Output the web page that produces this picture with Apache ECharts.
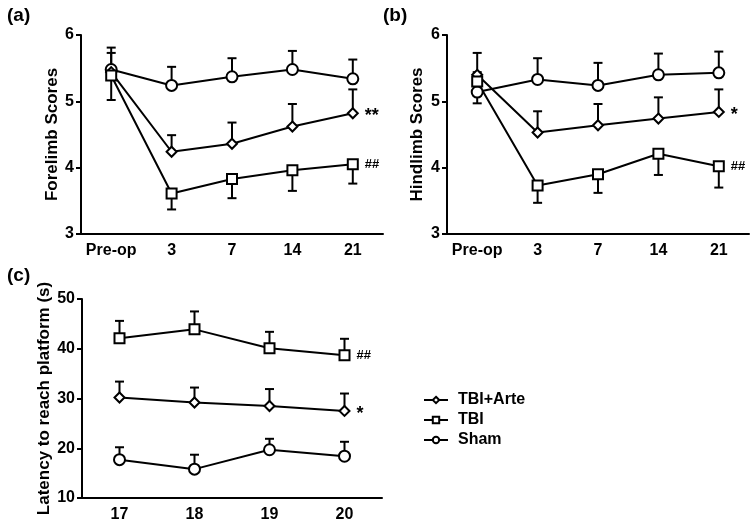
<!DOCTYPE html>
<html>
<head>
<meta charset="utf-8">
<script src="https://cdn.jsdelivr.net/npm/echarts@6/dist/echarts.min.js"></script>
<style>html,body{margin:0;padding:0;background:#fff}#c{width:750px;height:523px}</style>
</head>
<body>
<div id="c"></div>
<script>
// ---- data ----
var catsAB = ['Pre-op', '3', '7', '14', '21'];
var catsC = ['17', '18', '19', '20'];
var yTicksAB = [3, 4, 5, 6];
var yTicksC = [10, 20, 30, 40, 50];

var shamA = [5.48, 5.24, 5.37, 5.48, 5.34];
var shamAErr = [0.33, 0.28, 0.28, 0.28, 0.29];
var arteA = [5.44, 4.24, 4.36, 4.62, 4.82];
var arteAErr = [0.29, 0.25, 0.32, 0.34, 0.36];
var tbiA = [5.39, 3.61, 3.83, 3.96, 4.05];
var tbiAErr = [0.37, 0.24, 0.29, 0.31, 0.29];

var shamB = [5.14, 5.33, 5.24, 5.40, 5.43];
var shamBErr = [0.30, 0.32, 0.34, 0.32, 0.32];
var arteB = [5.40, 4.53, 4.64, 4.74, 4.84];
var arteBErr = [0.33, 0.32, 0.32, 0.32, 0.34];
var tbiB = [5.30, 3.73, 3.90, 4.21, 4.02];
var tbiBErr = [0.33, 0.26, 0.28, 0.32, 0.32];

var tbiC = [42.1, 43.9, 40.1, 38.7];
var tbiCErr = [3.5, 3.6, 3.3, 3.3];
var arteC = [30.2, 29.2, 28.5, 27.5];
var arteCErr = [3.2, 3.0, 3.4, 3.5];
var shamC = [17.7, 15.8, 19.7, 18.4];
var shamCErr = [2.5, 2.9, 2.2, 2.9];

// significance marks placed at the last point
var marksA = {arte: '**', tbi: '##'};
var marksB = {arte: '*', tbi: '##'};
var marksC = {arte: '*', tbi: '##'};

// ---- chart ----
var FONT = '"Liberation Sans", Arial, sans-serif';
var BLACK = '#000';

function xAxis(gi, cats) {
  return {
    type: 'category', gridIndex: gi, data: cats, boundaryGap: true,
    axisLine: {lineStyle: {color: BLACK, width: 2}},
    axisTick: {alignWithLabel: true, interval: 0, length: 5, lineStyle: {color: BLACK, width: 2}},
    axisLabel: {interval: 0, color: BLACK, fontFamily: FONT, fontWeight: 'bold', fontSize: 16, margin: 9},
    splitLine: {show: false}
  };
}
function yAxis(gi, ticks, name, gap) {
  return {
    type: 'value', gridIndex: gi, min: ticks[0], max: ticks[ticks.length - 1],
    interval: ticks[1] - ticks[0],
    name: name, nameLocation: 'middle', nameGap: gap, nameRotate: 90,
    nameTextStyle: {color: BLACK, fontFamily: FONT, fontWeight: 'bold', fontSize: 17},
    axisLine: {show: true, lineStyle: {color: BLACK, width: 2}},
    axisTick: {show: true, length: 5, lineStyle: {color: BLACK, width: 2}},
    axisLabel: {color: BLACK, fontFamily: FONT, fontWeight: 'bold', fontSize: 16, margin: 7},
    splitLine: {show: false}
  };
}

function lineSeries(name, gi, vals, symbol, size, mark, markSize, markDy) {
  var data = vals.map(function (v, i) {
    var d = {value: v};
    if (mark && i === vals.length - 1) {
      d.label = {show: true, position: 'right', distance: 6, formatter: mark, offset: [0, markDy || 0],
        color: BLACK, fontFamily: FONT, fontWeight: 'bold', fontSize: markSize || 15};
    }
    return d;
  });
  return {
    type: 'line', name: name, xAxisIndex: gi, yAxisIndex: gi, data: data,
    symbol: symbol, symbolSize: size, showSymbol: true,
    lineStyle: {color: BLACK, width: 2},
    itemStyle: {color: '#fff', borderColor: BLACK, borderWidth: 2},
    emphasis: {disabled: true}, animation: false, z: 5
  };
}

function errSeries(gi, vals, errs, dir) {
  var data = vals.map(function (v, i) { return [i, v, v + dir * errs[i]]; });
  return {
    type: 'custom', xAxisIndex: gi, yAxisIndex: gi, data: data, z: 3,
    animation: false, silent: true,
    renderItem: function (params, api) {
      var p0 = api.coord([api.value(0), api.value(1)]);
      var p1 = api.coord([api.value(0), api.value(2)]);
      var st = {stroke: BLACK, lineWidth: 2};
      return {type: 'group', children: [
        {type: 'line', shape: {x1: p0[0], y1: p0[1], x2: p1[0], y2: p1[1]}, style: st},
        {type: 'line', shape: {x1: p1[0] - 4.5, y1: p1[1], x2: p1[0] + 4.5, y2: p1[1]}, style: st}
      ]};
    }
  };
}

var option = {
  backgroundColor: '#fff',
  animation: false,
  title: [
    {text: '(a)', left: 2, top: 1, textStyle: {color: BLACK, fontFamily: FONT, fontWeight: 'bold', fontSize: 19}},
    {text: '(b)', left: 378, top: 1, textStyle: {color: BLACK, fontFamily: FONT, fontWeight: 'bold', fontSize: 19}},
    {text: '(c)', left: 2, top: 261, textStyle: {color: BLACK, fontFamily: FONT, fontWeight: 'bold', fontSize: 19}}
  ],
  grid: [
    {left: 81, top: 35, width: 302, height: 199},
    {left: 447, top: 35, width: 302, height: 199},
    {left: 82, top: 299, width: 300, height: 200}
  ],
  xAxis: [xAxis(0, catsAB), xAxis(1, catsAB), xAxis(2, catsC)],
  yAxis: [yAxis(0, yTicksAB, 'Forelimb Scores', 20), yAxis(1, yTicksAB, 'Hindlimb Scores', 21), yAxis(2, yTicksC, 'Latency to reach platform (s)', 23)],
  legend: {
    data: ['TBI+Arte', 'TBI', 'Sham'],
    orient: 'vertical', left: 418, top: 387, itemWidth: 24, itemHeight: 8, itemGap: 4,
    textStyle: {color: BLACK, fontFamily: FONT, fontWeight: 'bold', fontSize: 16, padding: [0, 0, 0, 5]},
    selectedMode: false
  },
  series: [
    errSeries(0, shamA, shamAErr, 1), errSeries(0, arteA, arteAErr, 1), errSeries(0, tbiA, tbiAErr, -1),
    lineSeries('Sham', 0, shamA, 'circle', 11),
    lineSeries('TBI+Arte', 0, arteA, 'diamond', 10, marksA.arte, 18, 3),
    lineSeries('TBI', 0, tbiA, 'rect', 10, marksA.tbi, 13, 0),

    errSeries(1, shamB, shamBErr, 1), errSeries(1, arteB, arteBErr, 1), errSeries(1, tbiB, tbiBErr, -1),
    lineSeries('Sham', 1, shamB, 'circle', 11),
    lineSeries('TBI+Arte', 1, arteB, 'diamond', 10, marksB.arte, 18, 3),
    lineSeries('TBI', 1, tbiB, 'rect', 10, marksB.tbi, 13, 0),

    errSeries(2, tbiC, tbiCErr, 1), errSeries(2, arteC, arteCErr, 1), errSeries(2, shamC, shamCErr, 1),
    lineSeries('TBI+Arte', 2, arteC, 'diamond', 10, marksC.arte, 18, 3),
    lineSeries('TBI', 2, tbiC, 'rect', 10, marksC.tbi, 13, 0),
    lineSeries('Sham', 2, shamC, 'circle', 11)
  ]
};
var chart = echarts.init(document.getElementById('c'), null, {renderer: 'canvas'});
chart.setOption(option);
</script>
</body>
</html>
